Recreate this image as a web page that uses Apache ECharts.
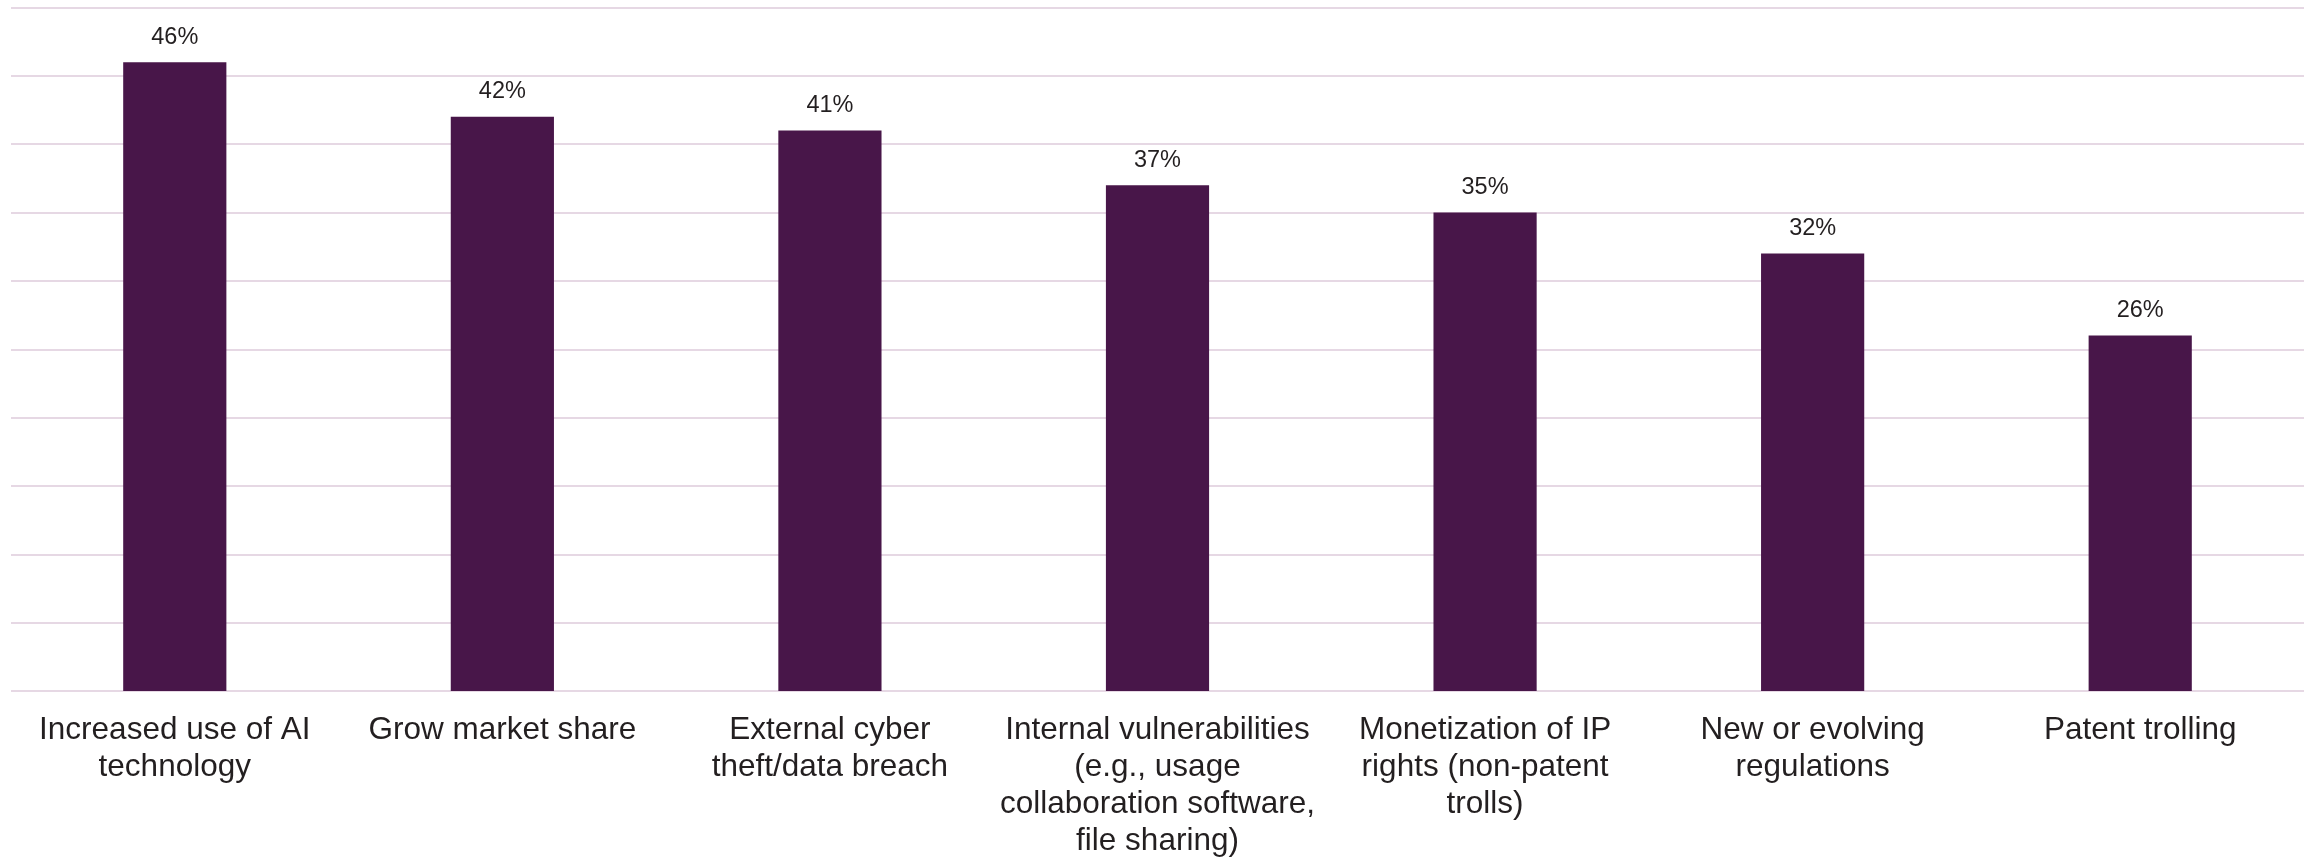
<!DOCTYPE html>
<html>
<head>
<meta charset="utf-8">
<script src="https://cdn.jsdelivr.net/npm/echarts@6/dist/echarts.min.js"></script>
<style>
  html, body { margin: 0; padding: 0; background: #ffffff; }
  #chart { width: 2308px; height: 860px; }
</style>
</head>
<body>
<div id="chart"></div>
<script>
// Category labels (line breaks as they wrap under each bar)
const categories = [
  'Increased use of AI\ntechnology',
  'Grow market share',
  'External cyber\ntheft/data breach',
  'Internal vulnerabilities\n(e.g., usage\ncollaboration software,\nfile sharing)',
  'Monetization of IP\nrights (non-patent\ntrolls)',
  'New or evolving\nregulations',
  'Patent trolling'
];

// Share of respondents, percent
const shares = [46, 42, 41, 37, 35, 32, 26];

// Value axis range
const axisMin = 0;
const axisMax = 50;
const axisStep = 5;

const chart = echarts.init(document.getElementById('chart'), null, { renderer: 'canvas' });

chart.setOption({
  animation: false,
  backgroundColor: '#ffffff',
  grid: { left: 11, right: 4, top: 7.5, bottom: 166.5, containLabel: false },
  xAxis: {
    type: 'category',
    data: categories,
    axisLine: { show: false },
    axisTick: { show: false },
    axisLabel: {
      interval: 0,
      margin: 21,
      color: '#231f20',
      fontFamily: '"Liberation Sans", Arial, sans-serif',
      fontSize: 31.5,
      lineHeight: 37,
      align: 'center',
      verticalAlign: 'top'
    }
  },
  yAxis: {
    type: 'value',
    min: axisMin,
    max: axisMax,
    interval: axisStep,
    axisLine: { show: false },
    axisTick: { show: false },
    axisLabel: { show: false },
    splitLine: { show: true, lineStyle: { color: '#e6d8e4', width: 2 } }
  },
  series: [{
    type: 'bar',
    data: shares,
    barWidth: '31.5%',
    itemStyle: { color: '#481649' },
    label: {
      show: true,
      position: 'top',
      distance: 13,
      formatter: p => p.value + '%',
      color: '#231f20',
      fontFamily: '"Liberation Sans", Arial, sans-serif',
      fontSize: 23.5,
      lineHeight: 24
    }
  }]
});
</script>
</body>
</html>
